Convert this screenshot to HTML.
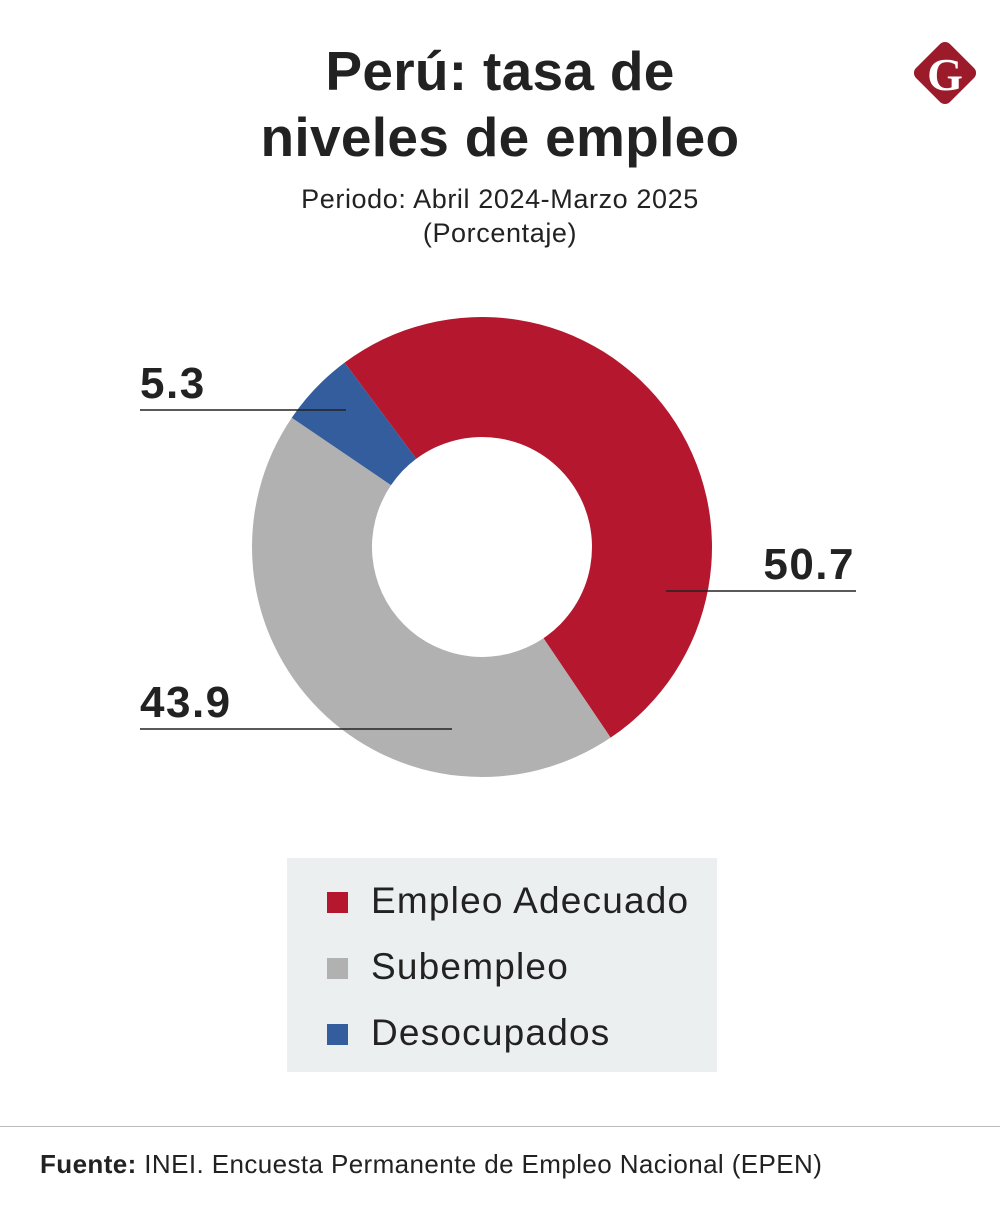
<!DOCTYPE html>
<html><head><meta charset="utf-8"><style>
body{margin:0;width:1000px;height:1205px;background:#fff;font-family:"Liberation Sans","DejaVu Sans",sans-serif;position:relative;overflow:hidden}
.t{position:absolute;left:0;width:1000px;text-align:center;color:#222}
</style></head><body>
<div class="t" style="top:38px;font-size:55px;font-weight:bold;line-height:66px;letter-spacing:0.3px">Perú: tasa de<br>niveles de empleo</div>
<div class="t" style="top:182px;font-size:27px;line-height:34px;letter-spacing:0.6px">Periodo: Abril 2024-Marzo 2025<br>(Porcentaje)</div>
<svg style="position:absolute;left:905px;top:33px" width="80" height="80" viewBox="0 0 80 80">
<rect x="16" y="16" width="48" height="48" rx="7" transform="rotate(45 40 40)" fill="#9b1b2a"/>
<text x="40" y="57" text-anchor="middle" font-family="Liberation Serif,serif" font-weight="bold" font-size="46" fill="#fff">G</text></svg>
<svg id="chart" style="position:absolute;left:0;top:0" width="1000" height="850"></svg>
<div style="position:absolute;left:287px;top:858px;width:430px;height:214px;background:#eceff0">
<div style="position:absolute;left:40px;top:22px;font-size:37px;letter-spacing:1.2px;color:#222;line-height:42px;white-space:nowrap"><span style="display:inline-block;width:21px;height:21px;background:#b5182e;margin-right:23px"></span>Empleo Adecuado</div>
<div style="position:absolute;left:40px;top:88px;font-size:37px;letter-spacing:1.2px;color:#222;line-height:42px"><span style="display:inline-block;width:21px;height:21px;background:#b1b1b1;margin-right:23px"></span>Subempleo</div>
<div style="position:absolute;left:40px;top:154px;font-size:37px;letter-spacing:1.2px;color:#222;line-height:42px"><span style="display:inline-block;width:21px;height:21px;background:#335d9c;margin-right:23px"></span>Desocupados</div>
</div>
<div style="position:absolute;left:0;top:1126px;width:1000px;height:1px;background:#bbb"></div>
<div style="position:absolute;left:40px;top:1149px;font-size:26px;letter-spacing:0.4px;color:#222;white-space:nowrap"><b>Fuente:</b> INEI. Encuesta Permanente de Empleo Nacional (EPEN)</div>
<script>
const categories=["Empleo Adecuado","Subempleo","Desocupados"];
const values=[50.7,43.9,5.3];
const colors=["#b5182e","#b1b1b1","#335d9c"];
const labels=["50.7","43.9","5.3"];
const svg=document.getElementById('chart');
const NS="http://www.w3.org/2000/svg";
const cx=482,cy=547,R=230,r=110,start=-36.7;
const total=values.reduce((a,b)=>a+b,0);
function pt(a,rad){const t=(a-90)*Math.PI/180;return [cx+rad*Math.cos(t),cy+rad*Math.sin(t)];}
let a=start;
values.forEach((v,i)=>{
 const sw=v/total*360,a2=a+sw,lg=sw>180?1:0;
 const [x1,y1]=pt(a,R),[x2,y2]=pt(a2,R),[x3,y3]=pt(a2,r),[x4,y4]=pt(a,r);
 const p=document.createElementNS(NS,'path');
 p.setAttribute('d',`M${x1},${y1}A${R},${R} 0 ${lg} 1 ${x2},${y2}L${x3},${y3}A${r},${r} 0 ${lg} 0 ${x4},${y4}Z`);
 p.setAttribute('fill',colors[i]);
 
 
 svg.appendChild(p);
 a=a2;
});
const lay=[[666,856,591,856,'end'],[140,452,729,140,'start'],[140,346,410,140,'start']];
lay.forEach((l,i)=>{
 const ln=document.createElementNS(NS,'line');
 ln.setAttribute('x1',l[0]);ln.setAttribute('x2',l[1]);ln.setAttribute('y1',l[2]);ln.setAttribute('y2',l[2]);
 ln.setAttribute('stroke','#222');ln.setAttribute('stroke-width','1.5');
 
 
 svg.appendChild(ln);
 const t=document.createElementNS(NS,'text');
 t.setAttribute('x',l[3]-(l[4]=='end'?1:0));t.setAttribute('y',l[2]-12);
 t.setAttribute('text-anchor',l[4]);t.setAttribute('font-size','44');t.setAttribute('font-weight','bold');t.setAttribute('letter-spacing','1.5');t.setAttribute('fill','#222');
 t.textContent=labels[i];
 
 
 svg.appendChild(t);
});
</script>
</body></html>
